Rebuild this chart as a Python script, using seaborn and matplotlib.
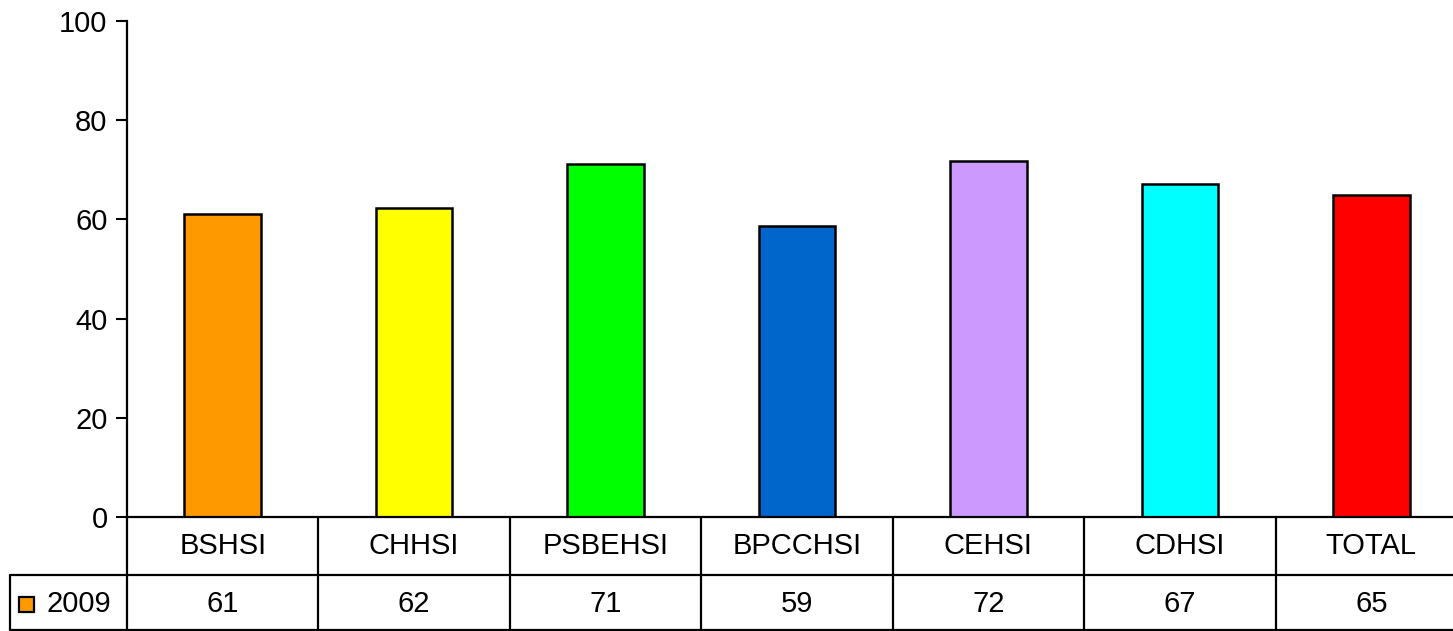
import numpy as np
import pandas as pd
import seaborn as sns
import matplotlib.pyplot as plt

# Data
categories = ['BSHSI', 'CHHSI', 'PSBEHSI', 'BPCCHSI', 'CEHSI', 'CDHSI', 'TOTAL']
values_2009 = [61.1, 62.2, 71.2, 58.7, 71.8, 67.1, 64.9]
table_labels = ['61', '62', '71', '59', '72', '67', '65']
bar_colors = ['#FF9900', '#FFFF00', '#00FF00', '#0066CC', '#CC99FF', '#00FFFF', '#FF0000']
series_name = '2009'
y_ticks = [0, 20, 40, 60, 80, 100]

sns.set_theme(style="white")
plt.rcParams['font.family'] = ['Liberation Sans', 'DejaVu Sans']
plt.rcParams['text.color'] = 'black'
plt.rcParams['ytick.color'] = 'black'
plt.rcParams['axes.edgecolor'] = 'black'

W, H = 1453, 631
fig = plt.figure(figsize=(W / 100, H / 100), dpi=100)

# plot area in pixel terms (the right edge runs a little past the image)
left, right, top, bottom = 127, 1467, 21, 517
ax = fig.add_axes([left / W, (H - bottom) / H, (right - left) / W, (bottom - top) / H])

df = pd.DataFrame({'category': categories, 'value': values_2009})
sns.barplot(data=df, x='category', y='value', hue='category', palette=bar_colors,
            saturation=1, width=0.4, edgecolor='black', linewidth=1.8,
            legend=False, ax=ax)

ax.set_xlim(-0.5, len(categories) - 0.5)
ax.set_ylim(0, 100)
ax.set_yticks(y_ticks)
ax.tick_params(axis='y', labelsize=21, length=8, width=1.5, direction='out', left=True, pad=6,
               colors='black')
ax.tick_params(axis='x', bottom=False, labelbottom=False)
ax.set_xlabel('')
ax.set_ylabel('')
for side in ['top', 'right']:
    ax.spines[side].set_visible(False)
ax.spines['left'].set_linewidth(1.6)
ax.spines['bottom'].set_linewidth(1.6)

# data table underneath
tab = fig.add_axes([0, 0, 1, (H - bottom) / H])
tab.set_xlim(0, W)
tab.set_ylim(H, bottom)
tab.axis('off')
col_w = (right - left) / len(categories)
row1, row2 = 575, 630
lw = 1.6
tab.plot([10, W], [row1, row1], color='black', lw=lw, clip_on=False)
tab.plot([10, W], [row2, row2], color='black', lw=lw, clip_on=False)
tab.plot([10, 10], [row1, row2], color='black', lw=lw, clip_on=False)
for k in range(len(categories)):
    x0 = left + k * col_w
    tab.plot([x0, x0], [bottom, row2], color='black', lw=lw, clip_on=False)
    xc = x0 + col_w / 2
    tab.text(xc, (bottom + row1) / 2, categories[k], ha='center', va='center', fontsize=21)
    tab.text(xc, (row1 + row2) / 2 + 1, table_labels[k], ha='center', va='center', fontsize=21)

# legend key in the first table cell
tab.add_patch(plt.Rectangle((19, 597), 15, 15, facecolor=bar_colors[0], edgecolor='black',
                            lw=1.6, clip_on=False))
tab.text(46, (row1 + row2) / 2 + 1, series_name, ha='left', va='center', fontsize=21)

plt.savefig('out.png', dpi=100)
